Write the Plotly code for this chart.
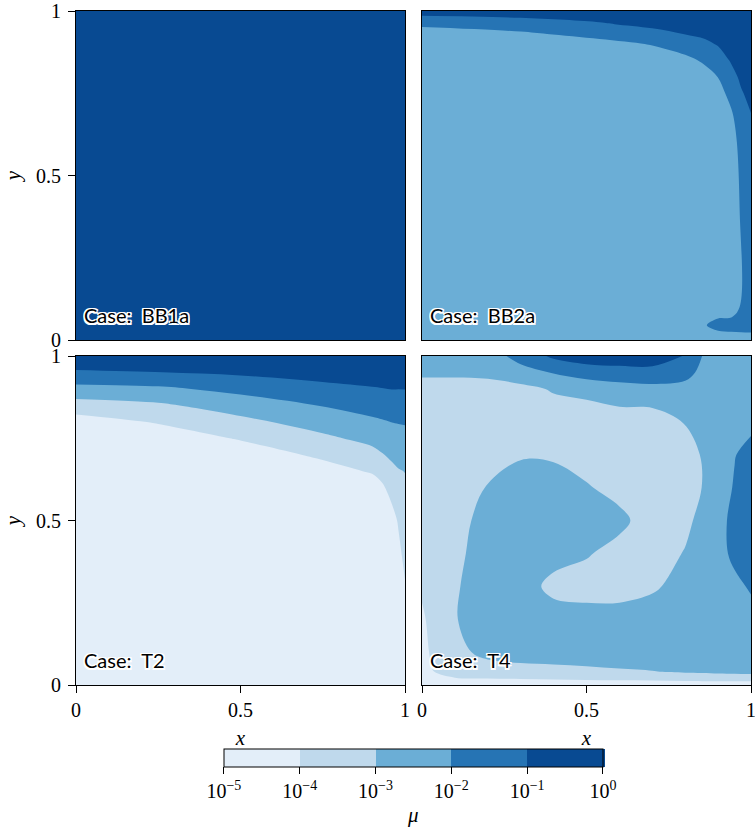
import plotly.graph_objects as go
from plotly.subplots import make_subplots

# ---------------- data: log10(mu) sampled on grids ----------------
case_names = ["BB1a", "BB2a", "T2", "T4"]

# colour bands (Blues) for log10(mu) in [-5,-4], [-4,-3], [-3,-2], [-2,-1], [-1,0]
band_colors = ["#e3eef9", "#b6d4e9", "#6baed6", "#2e7ebc", "#084a92"]
cbar_tickvals = [-5, -4, -3, -2, -1, 0]
cbar_ticktext = ["10<sup>−5</sup>", "10<sup>−4</sup>", "10<sup>−3</sup>",
                 "10<sup>−2</sup>", "10<sup>−1</sup>", "10<sup>0</sup>"]
axis_tickvals = [0, 0.5, 1]
axis_ticktext = ["0", "0.5", "1"]

# Case BB1a
bb1a_x = [0, 1]
bb1a_y = [0, 1]
bb1a_z = [[-0.6, -0.5],
          [-0.5, -0.4]]

# Case BB2a
bb2a_x = [0, 0.3, 0.54, 0.7, 0.8, 0.86, 0.9, 0.94, 0.97, 1.0]
bb2a_y = [0, 0.045, 0.1, 0.4, 0.6, 0.68, 0.75, 0.8, 0.85, 0.9, 0.93, 0.96, 1.0]
bb2a_z = [
    [-2.5, -2.5, -2.5, -2.5, -2.5, -2.5, -2.5, -2.5, -2.5, -2.5],
    [-2.5, -2.5, -2.5, -2.5, -2.5, -2.05, -1.7, -1.6, -1.55, -1.5],
    [-2.5, -2.5, -2.5, -2.5, -2.5, -2.5, -2.5, -2.55, -1.9, -1.5],
    [-2.5, -2.5, -2.5, -2.5, -2.5, -2.5, -2.5, -2.55, -1.9, -1.5],
    [-2.5, -2.5, -2.5, -2.5, -2.5, -2.5, -2.5, -2.4, -1.7, -1.3],
    [-2.5, -2.5, -2.5, -2.5, -2.5, -2.5, -2.5, -2.15, -1.45, -1.05],
    [-2.5, -2.5, -2.5, -2.5, -2.5, -2.5, -2.35, -1.7, -1.1, -0.7],
    [-2.5, -2.5, -2.5, -2.5, -2.5, -2.35, -1.98, -1.35, -0.8, -0.4],
    [-2.5, -2.5, -2.5, -2.45, -2.25, -1.85, -1.5, -0.9, -0.5, -0.3],
    [-2.5, -2.45, -2.3, -1.95, -1.5, -1.2, -0.92, -0.5, -0.3, -0.3],
    [-2.35, -2.15, -1.7, -1.35, -0.98, -0.8, -0.6, -0.4, -0.3, -0.3],
    [-1.85, -1.55, -1.1, -0.75, -0.6, -0.5, -0.4, -0.3, -0.3, -0.3],
    [-0.5, -0.4, -0.4, -0.3, -0.3, -0.3, -0.3, -0.3, -0.3, -0.3],
]

# Case T2
t2_x = [0, 0.25, 0.5, 0.75, 0.9, 0.93, 0.96, 0.98, 1.0]
t2_y = [0, 0.3, 0.5, 0.6, 0.65, 0.7, 0.75, 0.8, 0.85, 0.9, 0.95, 1.0]
t2_z = [
    [-4.6, -4.6, -4.6, -4.6, -4.6, -4.6, -4.6, -4.6, -4.6],
    [-4.6, -4.6, -4.6, -4.6, -4.6, -4.6, -4.6, -4.6, -4.06],
    [-4.6, -4.6, -4.6, -4.6, -4.6, -4.6, -4.38, -3.9, -3.45],
    [-4.6, -4.6, -4.6, -4.6, -4.52, -4.17, -3.62, -3.33, -3.14],
    [-4.6, -4.6, -4.6, -4.42, -3.9, -3.61, -3.23, -3.06, -2.98],
    [-4.6, -4.6, -4.57, -3.80, -3.30, -3.06, -2.83, -2.70, -2.63],
    [-4.6, -4.6, -3.91, -3.19, -2.72, -2.56, -2.42, -2.33, -2.29],
    [-4.46, -3.91, -3.25, -2.57, -2.17, -2.08, -1.98, -1.95, -1.92],
    [-3.42, -3.15, -2.53, -1.96, -1.62, -1.56, -1.5, -1.47, -1.45],
    [-2.32, -2.18, -1.73, -1.28, -1.07, -1.03, -0.98, -0.99, -0.98],
    [-1.14, -1.02, -0.84, -0.61, -0.52, -0.5, -0.5, -0.5, -0.5],
    [-0.2, -0.2, -0.2, -0.2, -0.2, -0.2, -0.2, -0.2, -0.2],
]

# Case T4
t4_x = [0, 0.03, 0.1, 0.2, 0.3, 0.4, 0.5, 0.6, 0.7, 0.8, 0.9, 0.95, 1.0]
t4_y = [0, 0.04, 0.1, 0.2, 0.3, 0.4, 0.5, 0.6, 0.7, 0.8, 0.9, 0.95, 1.0]
t4_z = [
    [-4.5, -4.5, -4.5, -4.5, -4.5, -4.5, -4.5, -4.5, -4.5, -4.5, -4.5, -4.5, -4.5],
    [-4.5, -4.05, -3.6, -3.5, -3.4, -3.3, -3.2, -3.1, -3.03, -2.9, -2.8, -2.75, -2.7],
    [-4.5, -3.8, -3.3, -2.7, -2.5, -2.5, -2.5, -2.5, -2.5, -2.5, -2.5, -2.5, -2.5],
    [-4.3, -3.5, -3.05, -2.5, -2.5, -2.5, -2.5, -2.5, -2.3, -2.5, -2.5, -2.5, -2.3],
    [-3.7, -3.5, -3.1, -2.5, -2.5, -3.3, -3.5, -3.5, -3.2, -2.5, -2.3, -2.2, -1.9],
    [-3.5, -3.5, -3.2, -2.6, -2.5, -2.6, -2.9, -3.4, -3.4, -2.95, -2.3, -1.8, -1.3],
    [-3.5, -3.5, -3.3, -2.7, -2.5, -2.5, -2.5, -2.7, -3.6, -3.2, -2.35, -1.7, -1.3],
    [-3.5, -3.5, -3.4, -2.95, -2.5, -2.5, -2.9, -3.4, -3.5, -3.4, -2.6, -1.9, -1.4],
    [-3.5, -3.5, -3.5, -3.5, -3.1, -3.15, -3.5, -3.5, -3.5, -3.4, -2.5, -2.05, -1.6],
    [-3.5, -3.5, -3.5, -3.5, -3.5, -3.6, -3.6, -3.5, -3.5, -2.95, -2.5, -2.4, -2.3],
    [-3.45, -3.45, -3.45, -3.4, -3.3, -2.9, -2.7, -2.4, -2.3, -2.3, -2.5, -2.5, -2.5],
    [-2.8, -2.8, -2.8, -2.75, -2.3, -1.95, -1.5, -1.4, -1.3, -1.7, -2.7, -2.6, -2.5],
    [-2.5, -2.5, -2.5, -2.4, -1.7, -0.8, -0.5, -0.4, -0.5, -1.05, -2.9, -2.6, -2.5],
]

panels = [
    (1, 1, bb1a_x, bb1a_y, bb1a_z),
    (1, 2, bb2a_x, bb2a_y, bb2a_z),
    (2, 1, t2_x, t2_y, t2_z),
    (2, 2, t4_x, t4_y, t4_z),
]

# ---------------- figure ----------------
SERIF = "Liberation Serif"
W, H = 755, 831
ML, MR, MT, MB = 76, 4, 11, 146
PW, PH = W - ML - MR, H - MT - MB


def py2paper(py):
    return (MT + PH - py) / PH


fig = make_subplots(rows=2, cols=2, horizontal_spacing=17 / PW, vertical_spacing=16 / PH)

# colorscale such that band i (centre at start+(i+0.5)) gets band_colors[i]
cscale = [[0, band_colors[0]]]
for i, c in enumerate(band_colors):
    cscale.append([(i + 1) / 6, c])
cscale.append([1, band_colors[-1]])

for k, (r, c, xs, ys, zs) in enumerate(panels):
    fig.add_trace(go.Contour(
        x=xs, y=ys, z=zs,
        zmin=-5, zmax=0,
        contours=dict(start=-5, end=0, size=1, coloring="fill", showlines=False),
        line=dict(width=0, smoothing=1.0),
        colorscale=cscale,
        showscale=(k == 0),
        hoverinfo="skip",
        colorbar=dict(
            orientation="h",
            x=(413.4 - ML) / PW, xanchor="center",
            y=py2paper(749.3), yanchor="top",
            len=379, lenmode="pixels",
            thickness=18, thicknessmode="pixels",
            outlinecolor="black", outlinewidth=1,
            xpad=0, ypad=0,
            tickmode="array", tickvals=cbar_tickvals, ticktext=cbar_ticktext,
            ticks="outside", ticklen=7, tickcolor="black",
            tickfont=dict(family=SERIF, size=20, color="black"),
        ),
    ), row=r, col=c)

for k, name in enumerate(case_names):
    ax = "" if k == 0 else str(k + 1)
    fig.add_annotation(
        x=0.019, y=0.034, xref=f"x{ax} domain", yref=f"y{ax} domain",
        xanchor="left", yanchor="bottom", showarrow=False,
        text=f"Case:\u00a0\u00a0{name}",
        font=dict(family="Lato", size=20, color="black",
                  shadow="1.5px 1.5px 0 white, -1.5px -1.5px 0 white, 1.5px -1.5px 0 white, -1.5px 1.5px 0 white, 0 1.5px 0 white, 0 -1.5px 0 white, 1.5px 0 0 white, -1.5px 0 0 white"),
        borderpad=1,
    )

# colorbar label
fig.add_annotation(
    x=(413.4 - ML) / PW, y=py2paper(815), xref="paper", yref="paper",
    xanchor="center", yanchor="middle", showarrow=False,
    text="<i>μ</i>", font=dict(family=SERIF, size=21, color="black"),
)

common = dict(range=[0, 1], showgrid=False, zeroline=False, showline=True, mirror=True,
              linecolor="black", linewidth=1, tickvals=axis_tickvals, ticktext=axis_ticktext,
              tickfont=dict(family=SERIF, size=20, color="black"), tickcolor="black",
              ticklen=7, tickwidth=1, automargin=False, ticklabeloverflow="allow")

for r in (1, 2):
    for c in (1, 2):
        xkw = dict(common)
        ykw = dict(common)
        if r == 2:
            xkw.update(ticks="outside", showticklabels=True,
                       title=dict(text="<i>x</i>", font=dict(family=SERIF, size=21, color="black"), standoff=10))
        else:
            xkw.update(ticks="", showticklabels=False)
        if c == 1:
            ykw.update(ticks="outside", showticklabels=True, ticklabelstandoff=3,
                       title=dict(text="<i>y</i>", font=dict(family=SERIF, size=21, color="black"), standoff=9))
        else:
            ykw.update(ticks="", showticklabels=False)
        fig.update_xaxes(row=r, col=c, **xkw)
        fig.update_yaxes(row=r, col=c, **ykw)

fig.update_layout(
    width=W, height=H,
    margin=dict(l=ML, r=MR, t=MT, b=MB, pad=0, autoexpand=False),
    paper_bgcolor="white", plot_bgcolor="white",
    showlegend=False,
    font=dict(family=SERIF, size=20, color="black"),
)

fig.write_html("out.html", config={"displayModeBar": False},
               post_script="document.body.style.margin='0px';document.body.style.padding='0px';")
